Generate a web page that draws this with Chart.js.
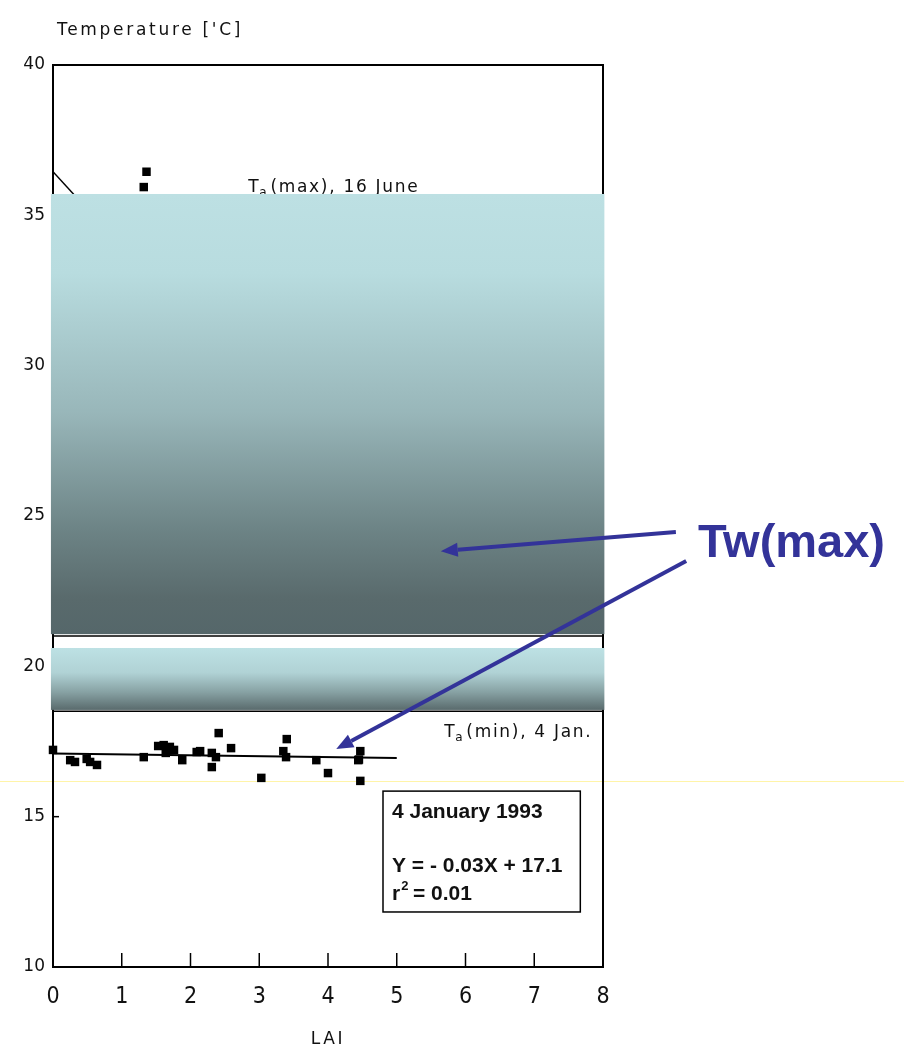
<!DOCTYPE html>
<html>
<head>
<meta charset="utf-8">
<title>Temperature vs LAI</title>
<script src="https://cdn.jsdelivr.net/npm/chart.js"></script>
<style>
  html, body { margin: 0; padding: 0; background: #fff; }
  #wrap { position: relative; width: 904px; height: 1045px; }
</style>
</head>
<body>
<div id="wrap"><canvas id="myChart"></canvas></div>
<script>
// axis ticks
const laiTicks = [0, 1, 2, 3, 4, 5, 6, 7, 8];
const tempTicks = [10, 15, 20, 25, 30, 35, 40];

// Ta(min), 4 January 1993
const janLAI  = [0.00, 0.25, 0.32, 0.49, 0.54, 0.64, 1.32, 1.53, 1.61, 1.70, 1.64, 1.76, 1.88, 2.09, 2.14,
                 2.31, 2.37, 2.31, 2.41, 2.59, 3.03, 3.40, 3.35, 3.39, 3.83, 4.00, 4.44, 4.47, 4.45, 4.47];
const janTemp = [17.22, 16.88, 16.82, 16.92, 16.82, 16.72, 16.98, 17.35, 17.38, 17.32, 17.12, 17.22, 16.88, 17.15, 17.18,
                 17.12, 16.98, 16.65, 17.78, 17.28, 16.29, 17.58, 17.18, 16.98, 16.88, 16.45, 16.88, 17.18, 16.90, 16.19];

// Ta(max), 16 June - points left above the shaded band
const juneLAI  = [1.36, 1.32];
const juneTemp = [36.45, 35.94];

// regression Y = -0.03X + 17.1 over LAI 0..5
const janFitLAI  = [0, 5];
const janFitTemp = [17.1, 17.1 - 0.03 * 5];
const juneFitLAI  = [0, 0.5];
const juneFitTemp = [36.45, 35.2];

// shaded bands laid over the plot (temperature ranges)
const bandTop    = [35.71, 20.61];
const bandBottom = [21.07, 18.55];

const toXY = (xs, ys) => xs.map((x, i) => ({ x: x, y: ys[i] }));

const NAVY = '#333399';
const plotFont = "'DejaVu Sans', sans-serif";

function subLabel(ctx, x, y, main, sub, rest, size) {
  ctx.font = size + 'px ' + plotFont;
  ctx.letterSpacing = '1.7px';
  ctx.textBaseline = 'alphabetic';
  ctx.textAlign = 'left';
  ctx.fillText(main, x, y);
  let w = ctx.measureText(main).width;
  ctx.font = Math.round(size * 0.7) + 'px ' + plotFont;
  ctx.fillText(sub, x + w - 1, y + 4);
  let w2 = ctx.measureText(sub).width;
  ctx.font = size + 'px ' + plotFont;
  ctx.fillText(rest, x + w + w2 + 1, y);
  ctx.letterSpacing = '0px';
}

function arrow(ctx, x1, y1, x2, y2) {
  const ang = Math.atan2(y2 - y1, x2 - x1);
  const len = 17, half = 7;
  const bx = x2 - len * Math.cos(ang), by = y2 - len * Math.sin(ang);
  ctx.strokeStyle = NAVY;
  ctx.fillStyle = NAVY;
  ctx.lineWidth = 4;
  ctx.beginPath();
  ctx.moveTo(x1, y1);
  ctx.lineTo(bx, by);
  ctx.stroke();
  ctx.beginPath();
  ctx.moveTo(x2, y2);
  ctx.lineTo(bx + half * Math.sin(ang), by - half * Math.cos(ang));
  ctx.lineTo(bx - half * Math.sin(ang), by + half * Math.cos(ang));
  ctx.closePath();
  ctx.fill();
}

const figure = {
  id: 'figure',
  beforeDatasetsDraw(chart) {
    const { ctx, chartArea: a, scales: { x, y } } = chart;
    ctx.save();

    // faint scan line
    const yl = Math.round(y.getPixelForValue(16.19)) + 0.5;
    ctx.strokeStyle = 'rgba(255, 236, 110, 0.6)';
    ctx.lineWidth = 1;
    ctx.beginPath(); ctx.moveTo(0, yl); ctx.lineTo(chart.width, yl); ctx.stroke();

    ctx.strokeStyle = '#000';
    ctx.lineWidth = 2;
    ctx.strokeRect(a.left, a.top, a.right - a.left, a.bottom - a.top);

    // inward tick marks
    ctx.lineWidth = 1.5;
    laiTicks.slice(1, -1).forEach(v => {
      const px = x.getPixelForValue(v);
      ctx.beginPath(); ctx.moveTo(px, a.bottom); ctx.lineTo(px, a.bottom - 14); ctx.stroke();
    });
    tempTicks.slice(1, -1).forEach(v => {
      const py = y.getPixelForValue(v);
      ctx.beginPath(); ctx.moveTo(a.left, py); ctx.lineTo(a.left + 6, py); ctx.stroke();
    });

    // panel separators
    [21.01, 18.51].forEach(v => {
      const py = y.getPixelForValue(v);
      ctx.beginPath(); ctx.moveTo(a.left, py); ctx.lineTo(a.right, py); ctx.stroke();
    });

    ctx.fillStyle = '#111';
    ctx.font = '17px ' + plotFont;
    ctx.letterSpacing = '2.7px';
    ctx.textAlign = 'left';
    ctx.textBaseline = 'alphabetic';
    ctx.fillText("Temperature ['C]", a.left + 4, a.top - 30);
    ctx.textAlign = 'center';
    ctx.textBaseline = 'top';
    ctx.fillText('LAI', (a.left + a.right) / 2, a.bottom + 64);
    ctx.letterSpacing = '0px';

    subLabel(ctx, x.getPixelForValue(2.84), y.getPixelForValue(35.77), 'T', 'a', '(max), 16 June', 17);
    subLabel(ctx, x.getPixelForValue(5.69), y.getPixelForValue(17.65), 'T', 'a', '(min), 4 Jan.', 17);
    ctx.restore();
  },
  afterDatasetsDraw(chart) {
    const { ctx, chartArea: a, scales: { x, y } } = chart;
    ctx.save();

    // regression box
    const bx = x.getPixelForValue(4.80), by = y.getPixelForValue(15.85);
    const bw = x.getPixelForValue(7.67) - bx, bh = y.getPixelForValue(11.83) - by;
    ctx.fillStyle = '#fff';
    ctx.fillRect(bx, by, bw, bh);
    ctx.strokeStyle = '#000';
    ctx.lineWidth = 1.5;
    ctx.strokeRect(bx, by, bw, bh);
    ctx.fillStyle = '#111';
    ctx.font = "bold 21px 'Liberation Sans', Arial, sans-serif";
    ctx.textAlign = 'left';
    ctx.textBaseline = 'alphabetic';
    ctx.fillText('4 January 1993', bx + 9, by + 27);
    ctx.fillText('Y = - 0.03X + 17.1', bx + 9, by + 81);
    ctx.fillText('r', bx + 9, by + 109);
    const rw = ctx.measureText('r').width;
    ctx.font = "bold 13px 'Liberation Sans', Arial, sans-serif";
    ctx.fillText('2', bx + 9 + rw + 1, by + 99);
    ctx.font = "bold 21px 'Liberation Sans', Arial, sans-serif";
    ctx.fillText(' = 0.01', bx + 9 + rw + 7, by + 109);

    // shaded bands
    const left = x.getPixelForValue(-0.03), right = x.getPixelForValue(8.02);
    bandTop.forEach((t, i) => {
      const top = y.getPixelForValue(t), bottom = y.getPixelForValue(bandBottom[i]);
      const g = ctx.createLinearGradient(0, top, 0, bottom);
      if (i === 0) {
        g.addColorStop(0, '#bde0e3');
        g.addColorStop(0.18, '#b8dcdf');
        g.addColorStop(0.5, '#98b6b9');
        g.addColorStop(0.76, '#6d8486');
        g.addColorStop(0.92, '#596a6c');
        g.addColorStop(1, '#55676a');
      } else {
        g.addColorStop(0, '#bde1e4');
        g.addColorStop(0.4, '#b0d2d5');
        g.addColorStop(0.72, '#86a0a2');
        g.addColorStop(1, '#5a6b6d');
      }
      ctx.fillStyle = g;
      ctx.fillRect(left, top, right - left, bottom - top);
    });

    // Tw(max) callout
    arrow(ctx, x.getPixelForValue(9.06), y.getPixelForValue(24.47), x.getPixelForValue(5.64), y.getPixelForValue(23.83));
    arrow(ctx, x.getPixelForValue(9.21), y.getPixelForValue(23.50), x.getPixelForValue(4.12), y.getPixelForValue(17.25));
    ctx.fillStyle = NAVY;
    ctx.font = "bold 47px 'Liberation Sans', Arial, sans-serif";
    ctx.textAlign = 'left';
    ctx.textBaseline = 'alphabetic';
    ctx.fillText('Tw(max)', x.getPixelForValue(9.38), y.getPixelForValue(23.63));
    ctx.restore();
  }
};

const ctx = document.getElementById('myChart');

const chart = new Chart(ctx, {
  type: 'scatter',
  data: {
    datasets: [{
      label: 'Ta(min), 4 Jan.',
      data: toXY(janLAI, janTemp),
      pointStyle: 'rect',
      pointRadius: 6,
      backgroundColor: '#000',
      borderWidth: 0,
      clip: false
    }, {
      label: 'Ta(max), 16 June',
      data: toXY(juneLAI, juneTemp),
      pointStyle: 'rect',
      pointRadius: 6,
      backgroundColor: '#000',
      borderWidth: 0,
      clip: false
    }, {
      label: 'fit 4 Jan.',
      data: toXY(janFitLAI, janFitTemp),
      showLine: true,
      pointRadius: 0,
      borderColor: '#000',
      borderWidth: 2
    }, {
      label: 'fit 16 June',
      data: toXY(juneFitLAI, juneFitTemp),
      showLine: true,
      pointRadius: 0,
      borderColor: '#000',
      borderWidth: 1.5
    }]
  },
  options: {
    responsive: true,
    maintainAspectRatio: false,
    animation: false,
    layout: { padding: { left: 0, right: 301, top: 65, bottom: 0 } },
    plugins: { legend: { display: false }, tooltip: { enabled: false } },
    scales: {
      x: {
        type: 'linear',
        min: 0, max: 8,
        afterBuildTicks: s => { s.ticks = laiTicks.map(v => ({ value: v })); },
        afterFit: s => { s.height = 78; },
        grid: { display: false, drawTicks: false },
        border: { display: false },
        ticks: {
          padding: 16,
          color: '#111',
          font: { family: "'Liberation Sans Narrow', 'DejaVu Sans Condensed', 'DejaVu Sans', sans-serif", size: 23 }
        }
      },
      y: {
        min: 10, max: 40,
        afterBuildTicks: s => { s.ticks = tempTicks.map(v => ({ value: v })); },
        afterFit: s => { s.width = 53; },
        grid: { display: false, drawTicks: false },
        border: { display: false },
        ticks: {
          padding: 8,
          color: '#111',
          font: { family: "'DejaVu Sans', sans-serif", size: 17 }
        }
      }
    }
  },
  plugins: [figure]
});
</script>
</body>
</html>
